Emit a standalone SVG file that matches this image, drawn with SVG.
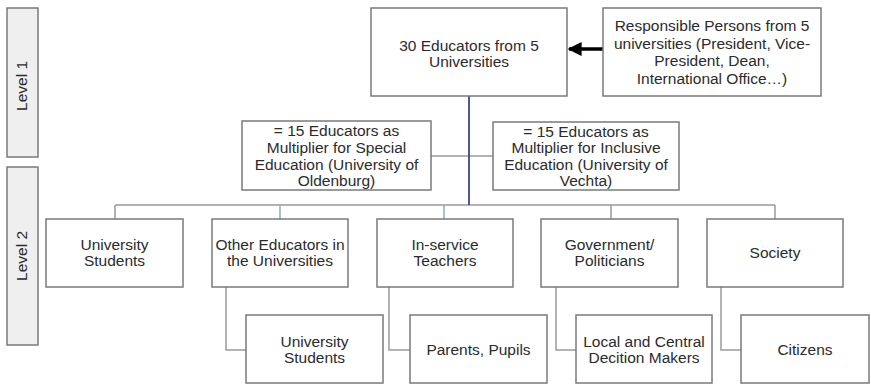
<svg xmlns="http://www.w3.org/2000/svg" width="871" height="384" viewBox="0 0 871 384">
  <style>
    .box { fill: #ffffff; stroke: #7a7a7a; stroke-width: 1.5; }
    .lvl { fill: #efefef; stroke: #7a7a7a; stroke-width: 1.5; }
    .t { font-family: "Liberation Sans", Arial, sans-serif; font-size: 15.5px; fill: #2b2b2b; text-anchor: middle; }
    .ln { fill: none; stroke: #9a9a9a; stroke-width: 1.5; }
    .main { fill: none; stroke: #3b4a78; stroke-width: 1.8; }
    .blue { fill: none; stroke: #8fa8cc; stroke-width: 1.5; }
  </style>
  <defs>
    <marker id="arrowhead" viewBox="0 0 10 10" refX="9" refY="5" markerWidth="4" markerHeight="4" orient="auto">
      <path d="M0,0 L10,5 L0,10 Z" fill="#000000"/>
    </marker>
  </defs>

  <!-- level labels -->
  <g id="level1">
    <rect class="lvl" x="7" y="8" width="31" height="149"/>
    <text class="t" transform="translate(27,86) rotate(-90)">Level 1</text>
  </g>
  <g id="level2">
    <rect class="lvl" x="7" y="167" width="31" height="178"/>
    <text class="t" transform="translate(27,256) rotate(-90)">Level 2</text>
  </g>

  <!-- connectors -->
  <g id="connectors">
    <line x1="603" y1="49" x2="569" y2="49" stroke="#000" stroke-width="3.5" marker-end="url(#arrowhead)"/>
    <line class="ln" x1="431" y1="156" x2="493" y2="156"/>
    <line class="ln" x1="115" y1="205" x2="775" y2="205"/>
    <line class="main" x1="469" y1="96" x2="469" y2="205"/>
    <line class="ln" x1="115" y1="205" x2="115" y2="219"/>
    <line class="blue" x1="280" y1="205" x2="280" y2="219"/>
    <line class="blue" x1="444" y1="205" x2="444" y2="219"/>
    <line class="ln" x1="611" y1="205" x2="611" y2="219"/>
    <line class="ln" x1="775" y1="205" x2="775" y2="219"/>
    <polyline class="ln" points="226,287 226,350 246,350"/>
    <polyline class="ln" points="389,287 389,350 410,350"/>
    <polyline class="ln" points="556,287 556,350 576,350"/>
    <polyline class="ln" points="721,287 721,350 741,350"/>
  </g>

  <!-- level 1 -->
  <g id="educators">
    <rect class="box" x="371" y="8" width="196" height="88"/>
    <text class="t" x="469" y="51">30 Educators from 5</text>
    <text class="t" x="469" y="67">Universities</text>
  </g>
  <g id="responsible">
    <rect class="box" x="603" y="8" width="218" height="88"/>
    <text class="t" x="712" y="31">Responsible Persons from 5</text>
    <text class="t" x="712" y="48.5">universities (President, Vice-</text>
    <text class="t" x="712" y="66">President, Dean,</text>
    <text class="t" x="712" y="83.5">International Office…)</text>
  </g>
  <g id="multiplier-special">
    <rect class="box" x="242" y="121" width="189" height="69"/>
    <text class="t" x="336.5" y="136">= 15 Educators as</text>
    <text class="t" x="336.5" y="153">Multiplier for Special</text>
    <text class="t" x="336.5" y="169.5">Education (University of</text>
    <text class="t" x="336.5" y="186">Oldenburg)</text>
  </g>
  <g id="multiplier-inclusive">
    <rect class="box" x="493" y="122" width="186" height="68"/>
    <text class="t" x="586" y="136.5">= 15 Educators as</text>
    <text class="t" x="586" y="153">Multiplier for Inclusive</text>
    <text class="t" x="586" y="169.5">Education (University of</text>
    <text class="t" x="586" y="186">Vechta)</text>
  </g>

  <!-- level 2 -->
  <g id="university-students">
    <rect class="box" x="46" y="219" width="137" height="68"/>
    <text class="t" x="114.5" y="250">University</text>
    <text class="t" x="114.5" y="266">Students</text>
  </g>
  <g id="other-educators">
    <rect class="box" x="212" y="219" width="136" height="68"/>
    <text class="t" x="280" y="250">Other Educators in</text>
    <text class="t" x="280" y="266">the Universities</text>
  </g>
  <g id="inservice-teachers">
    <rect class="box" x="377" y="219" width="136" height="68"/>
    <text class="t" x="445" y="250">In-service</text>
    <text class="t" x="445" y="266">Teachers</text>
  </g>
  <g id="government">
    <rect class="box" x="541" y="219" width="137" height="68"/>
    <text class="t" x="609.5" y="250">Government/</text>
    <text class="t" x="609.5" y="266">Politicians</text>
  </g>
  <g id="society">
    <rect class="box" x="707" y="219" width="136" height="68"/>
    <text class="t" x="775" y="258">Society</text>
  </g>

  <!-- level 3 -->
  <g id="university-students-2">
    <rect class="box" x="246" y="315" width="137" height="68"/>
    <text class="t" x="314.5" y="347">University</text>
    <text class="t" x="314.5" y="363">Students</text>
  </g>
  <g id="parents-pupils">
    <rect class="box" x="410" y="315" width="137" height="68"/>
    <text class="t" x="478.5" y="355">Parents, Pupils</text>
  </g>
  <g id="decision-makers">
    <rect class="box" x="576" y="315" width="136" height="68"/>
    <text class="t" x="644" y="347">Local and Central</text>
    <text class="t" x="644" y="363">Decition Makers</text>
  </g>
  <g id="citizens">
    <rect class="box" x="741" y="315" width="128" height="68"/>
    <text class="t" x="805" y="355">Citizens</text>
  </g>
</svg>
